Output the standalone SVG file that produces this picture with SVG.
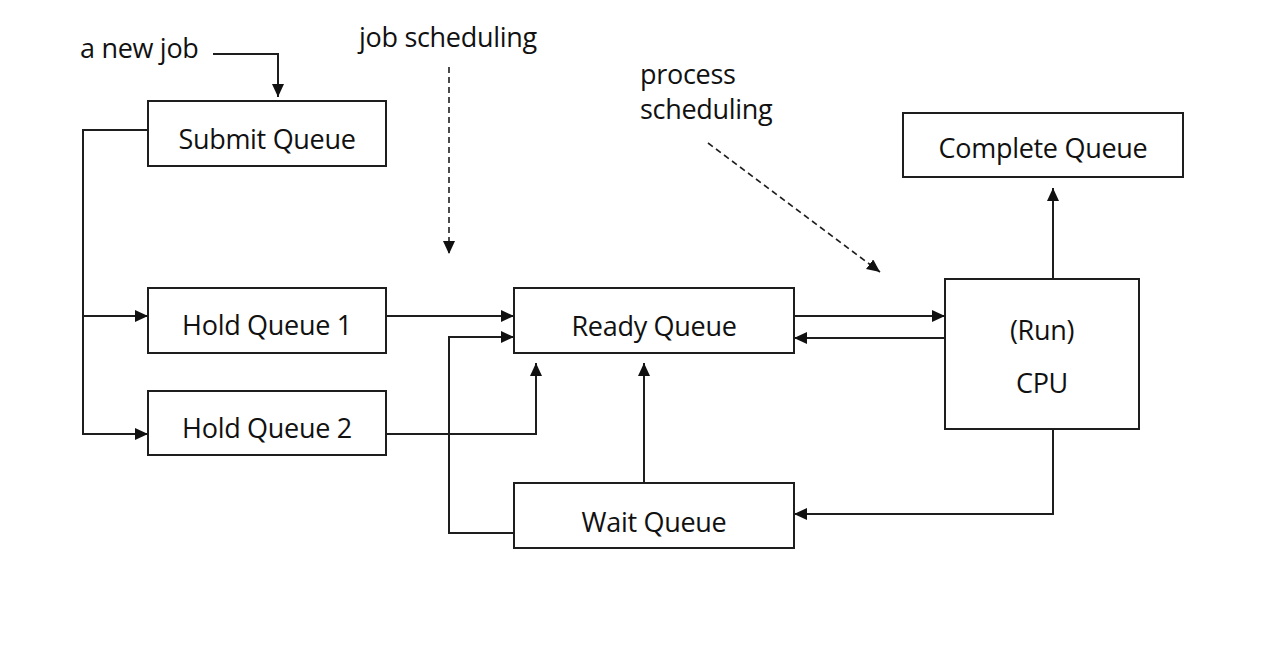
<svg xmlns="http://www.w3.org/2000/svg" width="1274" height="648" viewBox="0 0 1274 648">
<style>
  .box { fill: #ffffff; stroke: #1e1e1e; stroke-width: 2; }
  .lbl { font-family: "Open Sans", "Noto Sans", "DejaVu Sans", sans-serif; font-size: 27px; font-weight: 500; letter-spacing: -0.3px; fill: #111111; }
  .mid { text-anchor: middle; }
  .wire { fill: none; stroke: #1e1e1e; stroke-width: 2; }
  .dash { fill: none; stroke: #1e1e1e; stroke-width: 1.6; stroke-dasharray: 6 4; }
</style>
<defs>
  <marker id="arr" markerUnits="userSpaceOnUse" markerWidth="14" markerHeight="13" refX="13" refY="6" orient="auto">
    <path d="M0,0 L13,6 L0,12 z" fill="#111111"/>
  </marker>
</defs>
<rect width="1274" height="648" fill="#ffffff"/>

<g id="connectors">
  <polyline class="wire" points="213,54 278,54 278,97" marker-end="url(#arr)"/>
  <polyline class="wire" points="148,130 83,130 83,434 148,434" marker-end="url(#arr)"/>
  <line class="wire" x1="83" y1="316" x2="148" y2="316" marker-end="url(#arr)"/>
  <line class="wire" x1="386" y1="316" x2="514" y2="316" marker-end="url(#arr)"/>
  <polyline class="wire" points="386,434 536,434 536,363" marker-end="url(#arr)"/>
  <polyline class="wire" points="514,533 449,533 449,337 514,337" marker-end="url(#arr)"/>
  <line class="wire" x1="644" y1="483" x2="644" y2="363" marker-end="url(#arr)"/>
  <line class="wire" x1="794" y1="316" x2="945" y2="316" marker-end="url(#arr)"/>
  <line class="wire" x1="945" y1="338" x2="794" y2="338" marker-end="url(#arr)"/>
  <polyline class="wire" points="1053,429 1053,514 794,514" marker-end="url(#arr)"/>
  <line class="wire" x1="1053" y1="279" x2="1053" y2="188" marker-end="url(#arr)"/>
  <line class="dash" x1="449" y1="67" x2="449" y2="254" marker-end="url(#arr)"/>
  <line class="dash" x1="708" y1="143" x2="880" y2="272" marker-end="url(#arr)"/>
</g>

<g id="label-new-job"><text class="lbl" x="80" y="58">a new job</text></g>
<g id="label-job-scheduling"><text class="lbl" x="359" y="47">job scheduling</text></g>
<g id="label-process-scheduling">
  <text class="lbl" x="640" y="84">process</text>
  <text class="lbl" x="640" y="119">scheduling</text>
</g>

<g id="submit-queue">
  <rect class="box" x="148" y="101" width="238" height="65"/>
  <text class="lbl mid" x="267" y="149">Submit Queue</text>
</g>
<g id="hold-queue-1">
  <rect class="box" x="148" y="288" width="238" height="65"/>
  <text class="lbl mid" x="267" y="335">Hold Queue 1</text>
</g>
<g id="hold-queue-2">
  <rect class="box" x="148" y="391" width="238" height="64"/>
  <text class="lbl mid" x="267" y="438">Hold Queue 2</text>
</g>
<g id="ready-queue">
  <rect class="box" x="514" y="288" width="280" height="65"/>
  <text class="lbl mid" x="654" y="336">Ready Queue</text>
</g>
<g id="wait-queue">
  <rect class="box" x="514" y="483" width="280" height="65"/>
  <text class="lbl mid" x="654" y="532">Wait Queue</text>
</g>
<g id="cpu">
  <rect class="box" x="945" y="279" width="194" height="150"/>
  <text class="lbl mid" x="1042" y="340">(Run)</text>
  <text class="lbl mid" x="1042" y="393">CPU</text>
</g>
<g id="complete-queue">
  <rect class="box" x="903" y="113" width="280" height="64"/>
  <text class="lbl mid" x="1043" y="158">Complete Queue</text>
</g>
</svg>
